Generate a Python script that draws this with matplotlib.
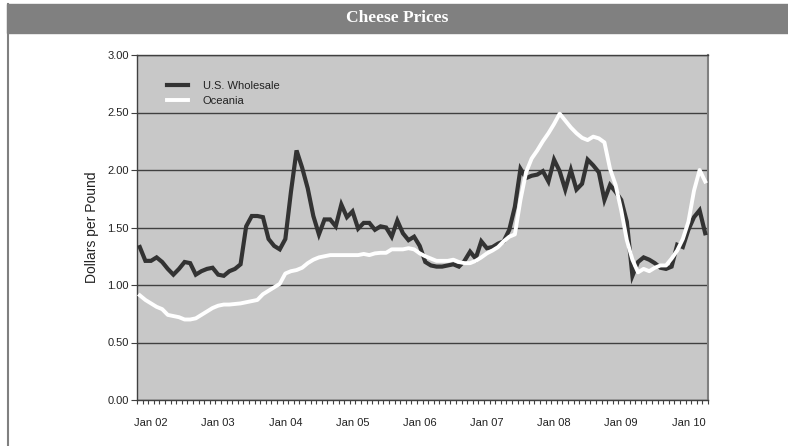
import matplotlib
matplotlib.use('Agg')
import matplotlib.pyplot as plt
import matplotlib.ticker as mticker
from matplotlib.patches import Rectangle
from matplotlib.lines import Line2D
import numpy as np

plt.rcParams['font.family'] = ['Liberation Sans', 'DejaVu Sans']

# Monthly prices, Nov 2001 - Apr 2010 (dollars per pound)
us_wholesale = [
    1.33, 1.21, 1.21, 1.24, 1.20, 1.14, 1.09, 1.14, 1.20, 1.19,
    1.09, 1.12, 1.14, 1.15, 1.09, 1.08, 1.12, 1.14, 1.18, 1.51,
    1.60, 1.60, 1.59, 1.40, 1.34, 1.31, 1.40, 1.81, 2.17, 2.02,
    1.84, 1.60, 1.44, 1.57, 1.57, 1.51, 1.70, 1.59, 1.64, 1.49,
    1.54, 1.54, 1.48, 1.51, 1.50, 1.42, 1.56, 1.45, 1.39, 1.42,
    1.34, 1.20, 1.17, 1.16, 1.16, 1.17, 1.18, 1.16, 1.21, 1.29,
    1.23, 1.38, 1.32, 1.33, 1.36, 1.38, 1.48, 1.68, 2.01, 1.93,
    1.95, 1.96, 1.99, 1.90, 2.09, 1.99, 1.83, 2.00, 1.83, 1.88,
    2.09, 2.04, 1.98, 1.74, 1.87, 1.81, 1.74, 1.55, 1.08, 1.20,
    1.24, 1.22, 1.19, 1.15, 1.14, 1.16, 1.35, 1.33, 1.48, 1.59,
    1.65, 1.45,
]
oceania = [
    0.91, 0.87, 0.84, 0.81, 0.79, 0.74, 0.73, 0.72, 0.70, 0.70,
    0.71, 0.74, 0.77, 0.80, 0.82, 0.83, 0.83, 0.835, 0.84, 0.85,
    0.86, 0.87, 0.92, 0.95, 0.98, 1.01, 1.10, 1.12, 1.13, 1.15,
    1.19, 1.22, 1.24, 1.25, 1.26, 1.26, 1.26, 1.26, 1.26, 1.26,
    1.27, 1.26, 1.275, 1.28, 1.28, 1.31, 1.31, 1.31, 1.32, 1.31,
    1.275, 1.25, 1.23, 1.21, 1.21, 1.21, 1.22, 1.20, 1.19, 1.19,
    1.21, 1.24, 1.275, 1.30, 1.33, 1.38, 1.42, 1.44, 1.74, 1.98,
    2.10, 2.17, 2.25, 2.32, 2.40, 2.49, 2.43, 2.37, 2.32, 2.28,
    2.26, 2.29, 2.275, 2.24, 2.01, 1.87, 1.65, 1.39, 1.22, 1.11,
    1.14, 1.12, 1.15, 1.17, 1.17, 1.23, 1.30, 1.40, 1.55, 1.82,
    2.00, 1.90,
]
year_labels = ['Jan 02', 'Jan 03', 'Jan 04', 'Jan 05', 'Jan 06',
               'Jan 07', 'Jan 08', 'Jan 09', 'Jan 10']
first_jan = 2  # series starts in Nov 2001

DARK = '#333333'
PANEL = '#c8c8c8'
GRID = '#404040'
BAR = '#808080'

W, H = 788, 446
fig = plt.figure(figsize=(W / 100, H / 100), dpi=100)

# title bar and left frame line (behind the axes)
fig.patches.append(Rectangle((7 / W, 1 - 33 / H), 1 - 7 / W, 29 / H, transform=fig.transFigure,
                             facecolor=BAR, edgecolor=BAR, zorder=-2))
fig.lines.append(Line2D([7.5 / W, 7.5 / W], [0, 1 - 4 / H], transform=fig.transFigure,
                        color=BAR, linewidth=1.5, zorder=-2))
fig.text(397 / W, 1 - 18.5 / H, 'Cheese Prices', ha='center', va='center', color='white',
         fontsize=12.5, fontweight='bold', family=['Liberation Serif', 'DejaVu Serif'])

ax = fig.add_axes([137 / W, 1 - 400 / H, 571 / W, 345 / H])
ax.set_facecolor(PANEL)

x = np.arange(len(us_wholesale))
ax.plot(x, us_wholesale, color=DARK, linewidth=3, label='U.S. Wholesale',
        solid_joinstyle='miter', zorder=3)
ax.plot(x, oceania, color='white', linewidth=2.8, label='Oceania', zorder=4)

ax.set_xlim(-0.5, len(x) - 0.5)
ax.set_ylim(0, 3)

ax.yaxis.set_major_locator(mticker.MultipleLocator(0.5))
ax.yaxis.set_major_formatter(mticker.FormatStrFormatter('%.2f'))
ax.grid(axis='y', color=GRID, linewidth=1)
ax.set_axisbelow(True)

jan_pos = [first_jan + 12 * k for k in range(len(year_labels))]
ax.set_xticks(jan_pos)
ax.set_xticklabels(year_labels)
ax.set_xticks(np.arange(-0.5, len(x), 1), minor=True)
ax.tick_params(axis='x', which='major', length=0, pad=13, labelsize=8, colors='#222222')
ax.tick_params(axis='x', which='minor', length=3, width=0.8, color=GRID, direction='out')
ax.tick_params(axis='y', length=4, width=0.8, color=GRID, labelsize=8, pad=2, colors='#222222')

ax.set_ylabel('Dollars per Pound', fontsize=10, labelpad=6, color='#222222')

for side in ['left', 'bottom', 'top']:
    ax.spines[side].set_color(GRID)
    ax.spines[side].set_linewidth(1)
ax.spines['right'].set_color(BAR)
ax.spines['right'].set_linewidth(1.5)

leg = ax.legend(loc='upper left', bbox_to_anchor=(0.035, 0.955), frameon=False, fontsize=8,
                handlelength=1.9, handletextpad=1.3, labelspacing=0.5)
for t in leg.get_texts():
    t.set_color('#222222')

fig.savefig('out.png', dpi=100)
